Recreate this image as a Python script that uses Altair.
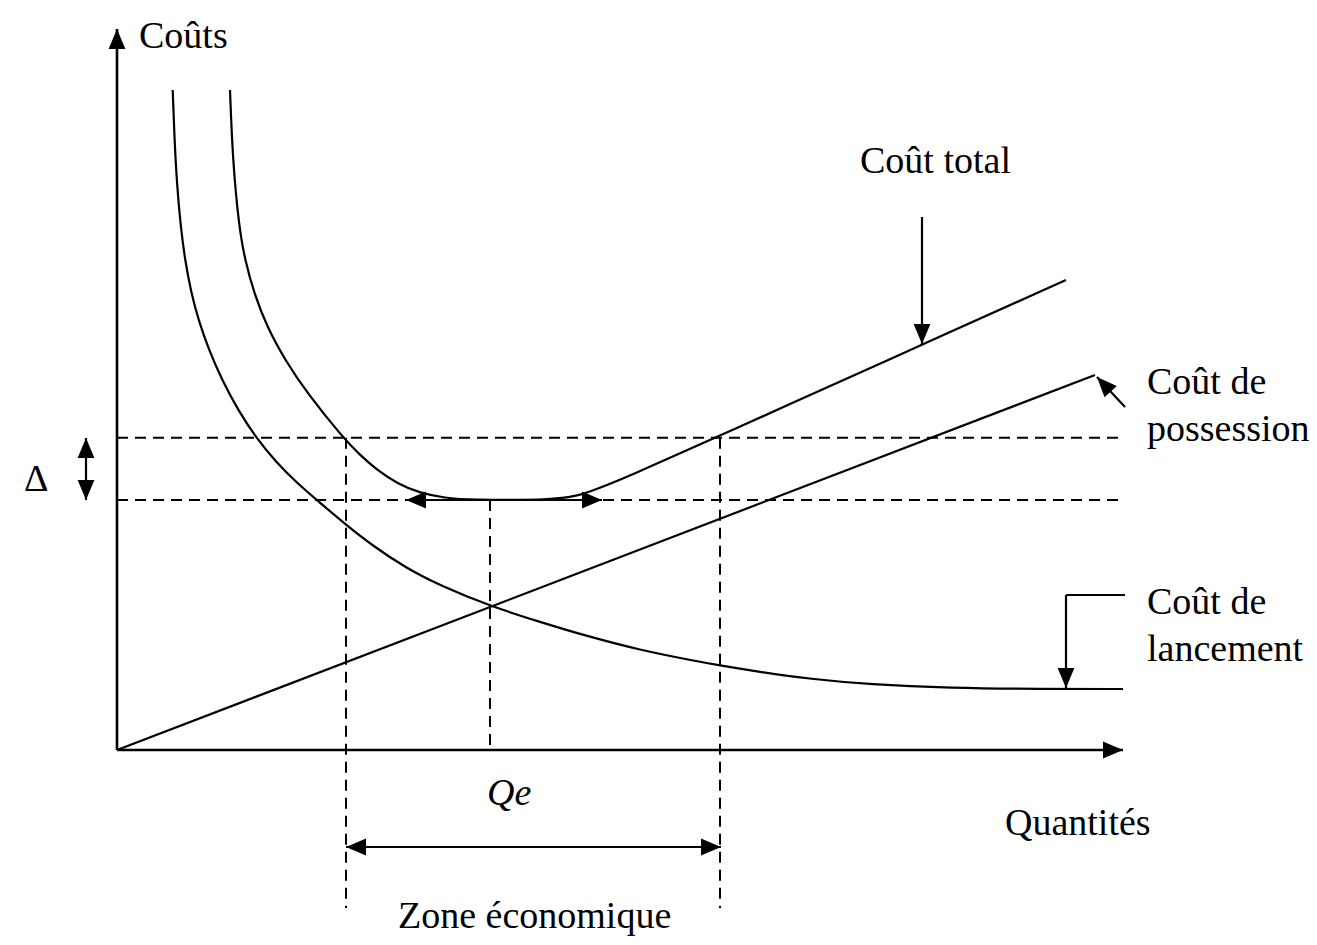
import math
import altair as alt
import pandas as pd

# ---------------- Courbes (quantité q, coût c ; unités arbitraires) ----------------
lancement_q = [5.57, 5.75, 6.0, 6.35, 6.8, 7.4, 8.2, 9.2, 10.5, 12.1, 13.9, 15.9, 18.0, 20.1, 22.8,
               25.6, 28.9, 32.3, 37.3, 42.3, 47.3, 52.3, 57.3, 60.3, 64.3, 69.3, 75.3, 83.3, 92.3, 100.6]
lancement_c = [66.0, 61.0, 56.5, 52.5, 49.0, 45.8, 42.8, 40.0, 37.0, 34.0, 31.23, 28.8, 26.7, 24.9, 22.6,
               20.4, 18.2, 16.45, 14.4, 12.8, 11.3, 10.0, 9.0, 8.45, 7.8, 7.1, 6.55, 6.2, 6.1, 6.1]

total_q = [11.3, 11.57, 12.2, 12.8, 13.7, 15.0, 16.8, 19.0, 22.6, 24.3, 26.0, 28.1, 30.3,
           32.8, 35.3, 43.0, 45.8, 49.1, 68.3, 80.5, 94.9]
total_c = [66.0, 59.0, 52.3, 49.0, 45.7, 42.3, 39.0, 35.7, 31.23, 29.5, 28.0, 26.6, 25.7,
           25.2, 25.0, 25.0, 25.3, 26.4, 35.04, 40.53, 47.0]

possession_q = [0.0, 97.8]
possession_c = [0.0, 37.5]

# ---------------- Repères ----------------
cout_min = 25.0      # minimum du coût total
cout_seuil = 31.23   # minimum + Δ
q_a, q_e, q_b = 22.9, 37.3, 60.3

dash_q = [0.0, 0.0, q_a, q_e, q_b]
dash_c = [cout_seuil, cout_min, cout_seuil, cout_min, cout_seuil]
dash_q2 = [100.3, 100.3, q_a, q_e, q_b]
dash_c2 = [cout_seuil, cout_min, -15.8, 0.0, -15.8]

# axes (avec flèche au bout)
axis_q0 = [0.0, 0.0]
axis_c0 = [0.0, 0.0]
axis_q1 = [0.0, 100.6]
axis_c1 = [72.1, 0.0]

# flèches : Δ, Qe, zone économique, coût total, coût de possession, coût de lancement (2 segments)
arrow_q0 = [-3.1, 28.9, 22.9, 80.5, 100.8, 100.8, 94.9]
arrow_c0 = [25.0, 25.0, -9.7, 53.3, 34.3, 15.5, 15.5]
arrow_q1 = [-3.1, 48.5, 60.4, 80.5, 98.0, 94.9, 94.9]
arrow_c1 = [31.2, 25.0, -9.7, 40.6, 37.3, 15.5, 6.2]
arrow_heads = ["both", "both", "both", "end", "end", "none", "end"]

# textes
label_text = ["Coûts", "Coût total", "Coût de", "possession", "Coût de", "lancement",
              "Δ", "Quantités", "Zone économique"]
label_q = [2.2, 74.3, 103.0, 103.0, 103.0, 103.0, -9.3, 88.8, 28.1]
label_c = [70.2, 57.7, 35.6, 30.9, 13.6, 8.9, 25.9, -8.5, -17.8]
qe_text = ["Qe"]
qe_q = [37.0]
qe_c = [-5.5]

# ---------------- Tables ----------------
curves = pd.DataFrame(
    [{"serie": "lancement", "i": i, "q": q, "c": c} for i, (q, c) in enumerate(zip(lancement_q, lancement_c))]
    + [{"serie": "total", "i": i, "q": q, "c": c} for i, (q, c) in enumerate(zip(total_q, total_c))]
)
poss = pd.DataFrame({"serie": "possession", "q": possession_q, "c": possession_c})
dashes = pd.DataFrame({"q": dash_q, "c": dash_c, "q2": dash_q2, "c2": dash_c2})
axes_df = pd.DataFrame({"q": axis_q0, "c": axis_c0, "q2": axis_q1, "c2": axis_c1})
arrows_df = pd.DataFrame({"q": arrow_q0, "c": arrow_c0, "q2": arrow_q1, "c2": arrow_c1})


def head_angle(dq, dc):
    return (math.degrees(math.atan2(dq, dc)) + 360.0) % 360.0


heads = []
for q0, c0, q1, c1 in zip(axis_q0, axis_c0, axis_q1, axis_c1):
    heads.append({"q": q1, "c": c1, "a": head_angle(q1 - q0, c1 - c0)})
for q0, c0, q1, c1, h in zip(arrow_q0, arrow_c0, arrow_q1, arrow_c1, arrow_heads):
    if h in ("end", "both"):
        heads.append({"q": q1, "c": c1, "a": head_angle(q1 - q0, c1 - c0)})
    if h == "both":
        heads.append({"q": q0, "c": c0, "a": head_angle(q0 - q1, c0 - c1)})
heads_df = pd.DataFrame(heads)
labels_df = pd.DataFrame({"t": label_text, "q": label_q, "c": label_c})
qe_df = pd.DataFrame({"t": qe_text, "q": qe_q, "c": qe_c})

# ---------------- Échelles ----------------
xs = alt.Scale(domain=[-10.9, 119.2], nice=False, zero=False)
ys = alt.Scale(domain=[-18.7, 74.2], nice=False, zero=False)
X = alt.X("q:Q", scale=xs, axis=None)
Y = alt.Y("c:Q", scale=ys, axis=None)

FONT = "Liberation Serif"
FS = 38

dash_layer = alt.Chart(dashes).mark_rule(color="black", strokeWidth=2, strokeDash=[11, 7]).encode(
    x=X, y=Y, x2="q2:Q", y2="c2:Q")
axes_layer = alt.Chart(axes_df).mark_rule(color="black", strokeWidth=2.6).encode(
    x=X, y=Y, x2="q2:Q", y2="c2:Q")
arrow_layer = alt.Chart(arrows_df).mark_rule(color="black", strokeWidth=2.2).encode(
    x=X, y=Y, x2="q2:Q", y2="c2:Q")
curve_layer = alt.Chart(curves).mark_line(color="black", strokeWidth=2.2, interpolate="basis").encode(
    x=X, y=Y, detail="serie:N", order="i:Q")
poss_layer = alt.Chart(poss).mark_line(color="black", strokeWidth=2.2).encode(x=X, y=Y)
head_layer = alt.Chart(heads_df).mark_point(
    shape="M0,0L-0.42,1L0.42,1Z", filled=True, color="black", opacity=1, size=1600, strokeWidth=0
).encode(x=X, y=Y, angle=alt.Angle("a:Q", scale=None))
text_layer = alt.Chart(labels_df).mark_text(
    font=FONT, fontSize=FS, align="left", baseline="alphabetic", color="black"
).encode(x=X, y=Y, text="t:N")
qe_layer = alt.Chart(qe_df).mark_text(
    font=FONT, fontSize=FS, fontStyle="italic", align="left", baseline="alphabetic", color="black"
).encode(x=X, y=Y, text="t:N")

chart = alt.layer(
    dash_layer, axes_layer, arrow_layer, curve_layer, poss_layer, head_layer, text_layer, qe_layer
).properties(
    width=1301, height=929, background="white", padding=0,
    autosize=alt.AutoSizeParams(type="none"),
).configure_view(stroke=None)

chart.save("out.html", embed_options={"renderer": "svg", "actions": False})
